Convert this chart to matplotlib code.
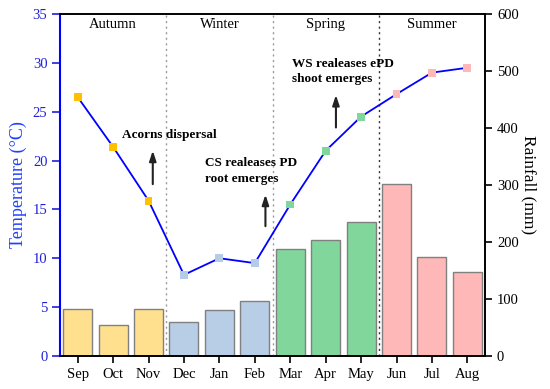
import matplotlib
matplotlib.use("Agg")
import matplotlib.pyplot as plt
import numpy as np

months = ["Sep", "Oct", "Nov", "Dec", "Jan", "Feb", "Mar", "Apr", "May", "Jun", "Jul", "Aug"]
temperature = [26.5, 21.4, 15.9, 8.3, 10.0, 9.5, 15.5, 21.0, 24.5, 26.8, 29.0, 29.5]
rainfall = [82, 54, 83, 59, 81, 97, 187, 204, 235, 301, 174, 147]
seasons = ["Autumn", "Winter", "Spring", "Summer"]
bar_colors = ["#FFE08F"] * 3 + ["#B8CDE6"] * 3 + ["#80D69B"] * 3 + ["#FFB8B8"] * 3
marker_colors = ["#FFC000"] * 3 + ["#B4CCE8"] * 3 + ["#80D69B"] * 3 + ["#FFB8B8"] * 3

plt.rcParams['font.family'] = ['Liberation Serif', 'DejaVu Serif']

fig = plt.figure(figsize=(5.5, 3.89), dpi=100)
ax1 = fig.add_axes([0.109, 0.085, 0.773, 0.879])
ax2 = ax1.twinx()

x = np.arange(len(months))
ax2.bar(x, rainfall, width=0.82, color=bar_colors, edgecolor="#808080", linewidth=1.0)
ax2.set_ylim(0, 600)
ax2.set_yticks(range(0, 601, 100))
ax2.set_ylabel("Rainfall (mm)", fontsize=12.5, rotation=270, labelpad=13)

ax1.set_zorder(ax2.get_zorder() + 1)
ax1.patch.set_visible(False)
ax1.plot(x, temperature, color="#0000FF", lw=1.3, zorder=3)
ax1.scatter(x, temperature, marker="s", s=32, c=marker_colors, zorder=4, linewidths=0)
ax1.set_ylim(0, 35)
ax1.set_xlim(-0.5, 11.5)
ax1.set_yticks(range(0, 36, 5))
ax1.set_xticks(x)
ax1.set_xticklabels(months)
ax1.set_ylabel("Temperature (\u00b0C)", fontsize=13, color="#1F3FFF", labelpad=4)

blue = "#2020D8"
ax1.tick_params(axis='y', colors=blue, labelcolor=blue, direction='out', length=5.5, width=1.2, labelsize=10.5)
ax1.tick_params(axis='x', direction='out', length=5, width=1.2, labelsize=10.5)
ax2.tick_params(axis='y', direction='out', length=5, width=1.2, labelsize=10.5)
ax1.spines['left'].set_color("#0000FF")
ax1.spines['left'].set_linewidth(1.5)
for ax in (ax1, ax2):
    ax.spines['top'].set_linewidth(1.2)
    ax.spines['bottom'].set_linewidth(1.2)
    ax.spines['right'].set_linewidth(1.2)
ax2.spines['left'].set_visible(False)

# season dividers
ax1.axvline(2.5, color="#999999", ls=(0, (1.5, 2.5)), lw=1.0)
ax1.axvline(5.5, color="#999999", ls=(0, (1.5, 2.5)), lw=1.0)
ax1.axvline(8.5, color="#333333", ls=(0, (1.5, 2.5)), lw=1.0)

for i, s in enumerate(seasons):
    ax1.text(3 * i + 1, 33.9, s, ha='center', va='center', fontsize=10.5)

# annotations
bold = dict(fontsize=9.5, fontweight='bold', ha='left', va='center', linespacing=1.4)
ax1.text(1.24, 22.6, "Acorns dispersal", **bold)
ax1.text(3.59, 18.9, "CS realeases PD\nroot emerges", **bold)
ax1.text(6.06, 29.1, "WS realeases ePD\nshoot emerges", **bold)

arrow = dict(arrowstyle='-|>,head_length=0.6,head_width=0.2', color='#222222', lw=1.5)
ax1.annotate("", xy=(2.12, 21.3), xytext=(2.12, 17.3), arrowprops=arrow)
ax1.annotate("", xy=(5.30, 16.8), xytext=(5.30, 13.0), arrowprops=arrow)
ax1.annotate("", xy=(7.29, 27.0), xytext=(7.29, 23.1), arrowprops=arrow)

fig.savefig("out.png", dpi=100)
